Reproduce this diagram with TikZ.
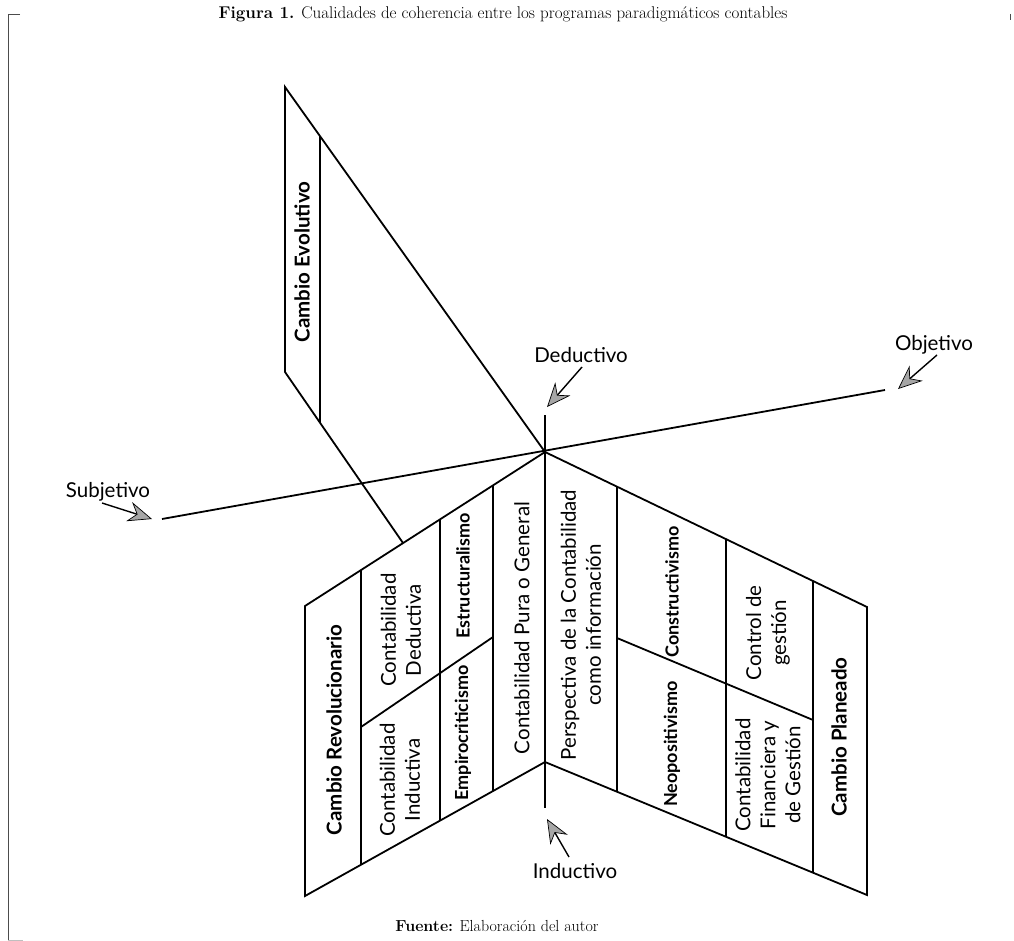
\documentclass[tikz,border=0pt]{standalone}
\usepackage{fontspec}
\newfontfamily\labelfont{Lato}
\usetikzlibrary{arrows.meta, calc}

\tikzset{
  edge/.style={line width=1.8pt, line join=miter},
  txt/.style={font=\labelfont\fontsize{20.5}{25}\selectfont, rotate=90, align=center, inner sep=0pt},
  btxt/.style={txt, font=\labelfont\bfseries\fontsize{18}{21}\selectfont},
  change/.style={txt, font=\labelfont\bfseries\fontsize{20.5}{24}\selectfont},
  axlabel/.style={font=\labelfont\fontsize{20.5}{24}\selectfont, inner sep=0pt},
  pointer/.style={line width=1.4pt, -{Stealth[length=24pt, width=20pt, inset=8pt, fill=gray!70, line width=0.7pt]}},
}

\begin{document}
\begin{tikzpicture}[x=1pt, y=-1pt]
  \useasboundingbox (0,0) rectangle (1014,941);
  % frame marks
  \draw[gray!60!black, line width=0.8pt] (20,14) -- (8,14) -- (8,940);
  \draw[gray!50, line width=0.8pt] (8,940) -- (23,940);
  \draw[gray!60!black, line width=0.8pt] (1010,14) -- (1010,20);

  \node[font=\fontsize{17}{20}\selectfont] (title) at (503,14)
    {\textbf{Figura 1.} Cualidades de coherencia entre los programas paradigm\'aticos contables};
  \node[font=\fontsize{16}{19}\selectfont] (source) at (497,926)
    {\textbf{Fuente:} Elaboraci\'on del autor};

  % points
  \coordinate (O) at (545,452);
  \coordinate (V) at (545,762);
  \coordinate (D) at (545,415);
  \coordinate (I) at (545,808);
  \coordinate (obj) at (885,390);
  \coordinate (sub) at (162,519);
  \coordinate (E1) at (285,87);
  \coordinate (E2) at (285,372);
  \coordinate (E3) at (403,543);
  \coordinate (LT) at (305,606);
  \coordinate (LB) at (305,896);
  \coordinate (RT) at (867,607);
  \coordinate (RB) at (867,895);

  % axes
  \draw[edge] (sub) -- (obj);
  \draw[edge] (D) -- (I);

  % evolutionary box
  \draw[edge] (O) -- (E1) -- (E2) -- (E3);
  \draw[edge] ($(E1)!0.1346!(O)$) -- ($(E2)!0.2966!(E3)$);

  % left fan
  \draw[edge] (O) -- (LT) -- (LB) -- (V);
  \foreach \f in {0.2167, 0.4375, 0.7667}
    \draw[edge] ($(O)!\f!(LT)$) -- ($(V)!\f!(LB)$);
  \draw[edge] (361,727) -- (493,637);

  % right fan
  \draw[edge] (O) -- (RT) -- (RB) -- (V);
  \foreach \f in {0.2236, 0.562, 0.832}
    \draw[edge] ($(O)!\f!(RT)$) -- ($(V)!\f!(RB)$);
  \draw[edge] (617,638) -- (813,720);

  % texts
  \node[change] (evol) at (302,262) {Cambio Evolutivo};
  \node[change] (revol) at (334,730) {Cambio Revolucionario};
  \node[txt] (deduct) at (401,630) {Contabilidad\\Deductiva};
  \node[txt] (induct) at (400,780) {Contabilidad\\Inductiva};
  \node[btxt] (estruc) at (463,576) {Estructuralismo};
  \node[btxt] (empiro) at (463,733) {Empirocriticismo};
  \node[txt] (pura) at (522,628) {Contabilidad Pura o General};
  \node[txt] (persp) at (581,625) {Perspectiva de la Contabilidad\\como informaci\'on};
  \node[btxt] (constr) at (672,592) {Constructivismo};
  \node[btxt] (neopos) at (672,744) {Neopositivismo};
  \node[txt] (control) at (768,633) {Control de\\gesti\'on};
  \node[txt] (finan) at (768,775) {Contabilidad\\Financiera y\\de Gesti\'on};
  \node[change] (plan) at (839,737) {Cambio Planeado};

  % axis labels
  \node[axlabel] (deductivo) at (581,355) {Deductivo};
  \node[axlabel] (objetivo) at (934,345) {Objetivo};
  \node[axlabel] (subjetivo) at (108,492) {Subjetivo};
  \node[axlabel] (inductivo) at (575,871) {Inductivo};

  \coordinate (ded-s) at (582,367);
  \coordinate (ded-t) at (547,407);
  \coordinate (obj-s) at (937,355);
  \coordinate (obj-t) at (898,389);
  \coordinate (sub-s) at (102,503);
  \coordinate (sub-t) at (152,519);
  \coordinate (ind-s) at (569,857);
  \coordinate (ind-t) at (547,819);
  \draw[pointer] (ded-s) -- (ded-t);
  \draw[pointer] (obj-s) -- (obj-t);
  \draw[pointer] (sub-s) -- (sub-t);
  \draw[pointer] (ind-s) -- (ind-t);
\end{tikzpicture}
\end{document}
